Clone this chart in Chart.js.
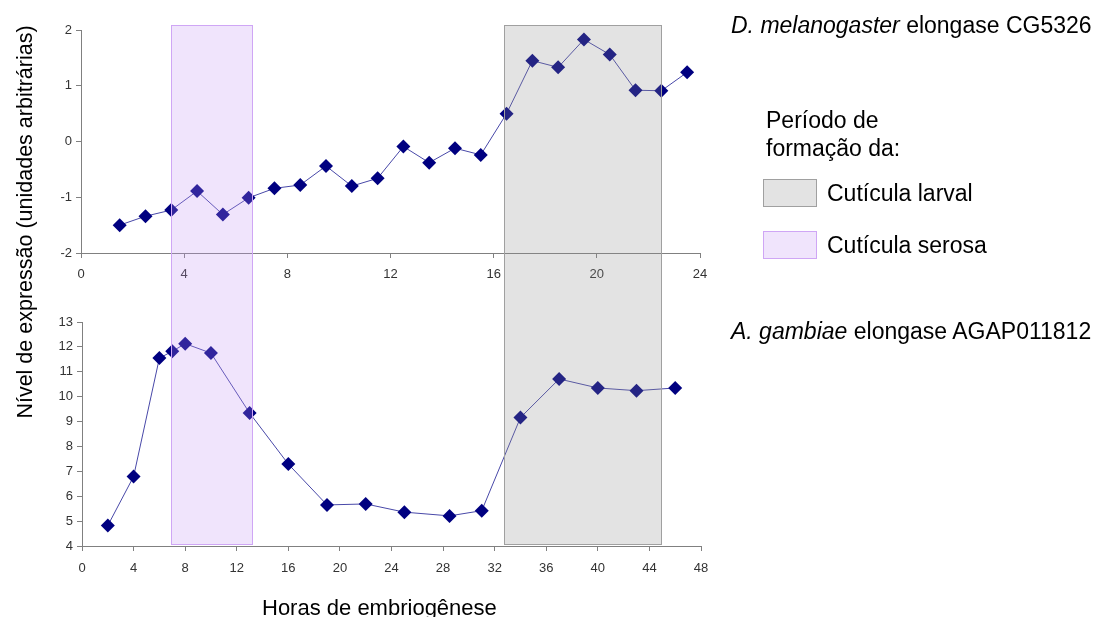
<!DOCTYPE html>
<html>
<head>
<meta charset="utf-8">
<script src="https://cdn.jsdelivr.net/npm/chart.js@4"></script>
<style>
  body { margin: 0; background: #fff; }
  #wrap { position: relative; width: 1103px; height: 617px; overflow: hidden; font-family: "Liberation Sans", Arial, sans-serif; color: #000; }
  canvas { position: absolute; left: 0; top: 0; }
  .txt { position: absolute; font-size: 23px; white-space: nowrap; line-height: 28px; }
  .box { position: absolute; width: 52px; height: 26px; }
</style>
</head>
<body>
<div id="wrap">
  <canvas id="topChart" width="1103" height="617"></canvas>
  <canvas id="bottomChart" width="1103" height="617"></canvas>

  <div class="txt" style="left:-175px; top:208px; width:400px; text-align:center; font-size:21.5px; transform:rotate(-90deg);">Nível de expressão (unidades arbitrárias)</div>
  <div class="txt" style="left:262px; top:594px; font-size:22px;">Horas de embriogênese</div>

  <div class="txt" style="left:731px; top:11px;"><i>D. melanogaster</i> elongase CG5326</div>
  <div class="txt" style="left:766px; top:106px;">Período de<br>formação da:</div>
  <div class="box" style="left:763px; top:179px; background:#e3e3e3; border:1px solid #a0a0a0;"></div>
  <div class="txt" style="left:827px; top:179px;">Cutícula larval</div>
  <div class="box" style="left:763px; top:231px; background:#f0e4fc; border:1px solid #cfa6f5;"></div>
  <div class="txt" style="left:827px; top:231px;">Cutícula serosa</div>
  <div class="txt" style="left:731px; top:317px;"><i>A. gambiae</i> elongase AGAP011812</div>
</div>
<script>
// D. melanogaster elongase CG5326 (horas 0-24)
var dmelHours = [1.5, 2.5, 3.5, 4.5, 5.5, 6.5, 7.5, 8.5, 9.5, 10.5, 11.5, 12.5,
                 13.5, 14.5, 15.5, 16.5, 17.5, 18.5, 19.5, 20.5, 21.5, 22.5, 23.5];
var dmelValues = [-1.50, -1.34, -1.23, -0.89, -1.31, -1.01, -0.84, -0.78, -0.44, -0.80, -0.66, -0.09,
                  -0.38, -0.12, -0.24, 0.50, 1.45, 1.33, 1.83, 1.56, 0.92, 0.91, 1.24];

// A. gambiae elongase AGAP011812 (horas 0-48)
var agamHours = [2, 4, 6, 7, 8, 10, 13, 16, 19, 22, 25, 28.5, 31, 34, 37, 40, 43, 46];
var agamValues = [4.82, 6.79, 11.55, 11.82, 12.13, 11.75, 9.34, 7.29, 5.65, 5.69, 5.36, 5.21,
                  5.42, 9.16, 10.71, 10.35, 10.24, 10.35];

// periodos em horas de A. gambiae (eixo de baixo)
var serosaPeriod = [6.9, 13.2];
var larvalPeriod = [32.7, 44.9];

var topTicks = [0, 4, 8, 12, 16, 20, 24];
var bottomTicks = [0, 4, 8, 12, 16, 20, 24, 28, 32, 36, 40, 44, 48];

Chart.defaults.font.family = '"Liberation Sans Narrow", "Liberation Sans", Arial, sans-serif';
Chart.defaults.font.size = 13;
Chart.defaults.color = '#333';

function toPoints(xs, ys) {
    return xs.map((x, i) => ({ x: x, y: ys[i] }));
}

function lineDataset(points) {
    return {
        data: points,
        borderColor: '#4848a8',
        borderWidth: 1,
        pointStyle: 'rectRot',
        pointRadius: 7,
        pointBackgroundColor: '#000080',
        pointBorderColor: '#000080',
        pointBorderWidth: 0,
        showLine: true,
        tension: 0
    };
}

function axisX(min, max, ticks, h, pad) {
    return {
        type: 'linear', min: min, max: max,
        afterBuildTicks: s => { s.ticks = ticks.map(v => ({ value: v })); },
        afterFit: s => { s.height = h; },
        grid: { drawOnChartArea: false, tickLength: 5, color: '#808080' },
        border: { color: '#808080', width: 1 },
        ticks: { padding: pad, maxRotation: 0 }
    };
}

function axisY(min, max, step, w) {
    return {
        min: min, max: max,
        afterFit: s => { s.width = w; },
        grid: { drawOnChartArea: false, tickLength: 5, color: '#808080' },
        border: { color: '#808080', width: 1 },
        ticks: { stepSize: step, padding: 4 }
    };
}

new Chart(document.getElementById('topChart').getContext('2d'), {
    type: 'scatter',
    data: { datasets: [lineDataset(toPoints(dmelHours, dmelValues))] },
    options: {
        responsive: false,
        animation: false,
        layout: { padding: { top: 30, left: 0, right: 403, bottom: 327 } },
        plugins: { legend: { display: false }, tooltip: { enabled: false } },
        scales: {
            x: axisX(0, 24, topTicks, 37, 9),
            y: axisY(-2, 2, 1, 81)
        }
    }
});

// faixas desenhadas por cima dos dois graficos
var bandsPlugin = {
    id: 'bands',
    afterDatasetsDraw(chart) {
        var ctx = chart.ctx, x = chart.scales.x;
        var top = 25, bottom = chart.chartArea.bottom - 2;
        var bands = [
            { r: serosaPeriod, fill: 'rgba(195,147,243,0.25)', line: '#cfa6f5' },
            { r: larvalPeriod, fill: 'rgba(143,143,143,0.25)', line: '#a0a0a0' }
        ];
        ctx.save();
        bands.forEach(b => {
            var x0 = Math.round(x.getPixelForValue(b.r[0])) + 0.5;
            var x1 = Math.round(x.getPixelForValue(b.r[1])) + 0.5;
            ctx.fillStyle = b.fill;
            ctx.fillRect(x0, top, x1 - x0, bottom - top);
            ctx.strokeStyle = b.line;
            ctx.lineWidth = 1;
            ctx.strokeRect(x0, top + 0.5, x1 - x0, bottom - top);
        });
        ctx.restore();
    }
};

new Chart(document.getElementById('bottomChart').getContext('2d'), {
    type: 'scatter',
    data: { datasets: [lineDataset(toPoints(agamHours, agamValues))] },
    options: {
        responsive: false,
        animation: false,
        layout: { padding: { top: 322, left: 0, right: 402, bottom: 0 } },
        plugins: { legend: { display: false }, tooltip: { enabled: false } },
        scales: {
            x: axisX(0, 48, bottomTicks, 71, 10),
            y: axisY(4, 13, 1, 82)
        }
    },
    plugins: [bandsPlugin]
});
</script>
</body>
</html>
